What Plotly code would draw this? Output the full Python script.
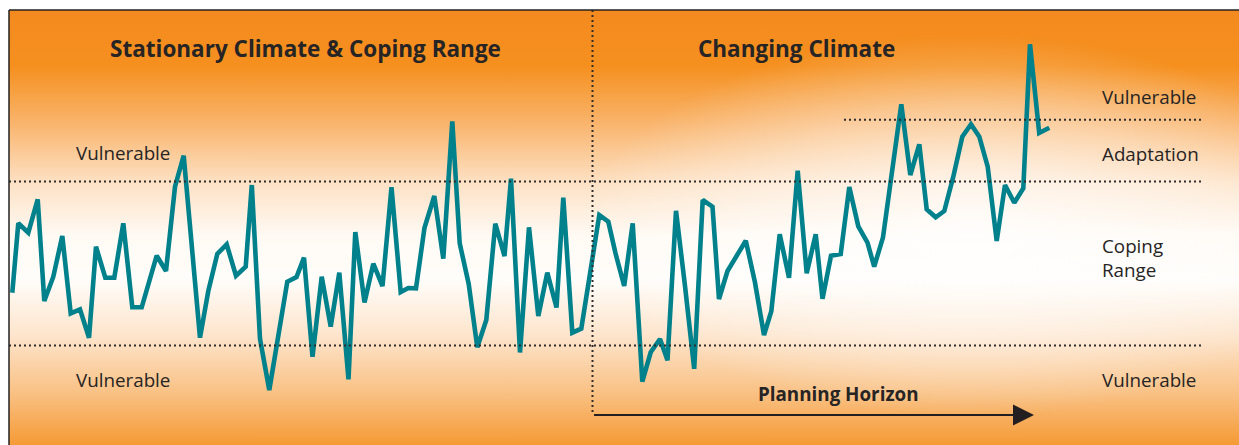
import base64
import plotly.graph_objects as go

# Climate variable trace (x = time position, y = value; axis drawn top-down)
time_pos = [12.3, 18.3, 28.3, 37.7, 44.3, 53.3, 62.3, 70.7, 80, 89, 96, 105.3, 114.3, 123.3, 132.3,
            141.7, 156.7, 166, 175, 183.7, 200, 208.3, 217.3, 226.7, 236, 245.7, 251.8, 260, 269.3,
            287.3, 296.5, 304, 312.5, 321.7, 330.7, 339.3, 348.5, 355.3, 364.5, 373.3, 382.5, 391.5,
            400.7, 408.3, 416, 424.5, 434.3, 443.3, 452.3, 459.7, 468.7, 477.3, 486.3, 495.3, 504.5,
            511, 520, 529, 538.3, 547.3, 556.5, 563.3, 572.3, 581.3, 599.3, 608.3, 615.5, 624.2,
            632.7, 642.3, 650.7, 660, 667.5, 676, 685, 694.2, 702.7, 712.5, 719, 727.5, 745.8, 755,
            764, 771.3, 779.7, 789, 797.7, 806.7, 815.7, 822.5, 831, 840.7, 849.3, 858.3, 867.5,
            874.2, 883, 901.3, 910.3, 919.3, 926.7, 935.7, 944.3, 953.3, 962.3, 971, 979.3, 987.7,
            996.7, 1005, 1014.3, 1023.3, 1030, 1039.2, 1049.3]
climate_val = [292.7, 223.3, 232.7, 199.3, 301, 276.7, 236, 313.3, 309.3, 337.7, 246.7, 277.7, 277.7,
               223.3, 307.3, 307.3, 255.7, 271, 186.7, 155.7, 337.7, 291, 254, 244.5, 275.7, 266.7,
               185, 339, 390, 281.7, 277, 257.7, 356.7, 276.7, 326.7, 272.7, 379.3, 232, 302.5,
               263.7, 286, 187.3, 292, 288, 288.3, 227.7, 196, 258.7, 121.3, 243.3, 284, 347.3, 320,
               223.7, 256, 178.7, 352.5, 227.3, 316, 272.7, 307.5, 197.7, 332.7, 328.7, 215, 221.7,
               253.3, 286, 223.3, 381.7, 352.3, 339, 360.3, 210.8, 286, 368.8, 200, 206.7, 299, 271,
               240.7, 282.5, 335, 311.2, 234.2, 277.7, 170.7, 273.3, 234.2, 298.7, 255.8, 254, 187,
               226.3, 242.7, 266.7, 237.3, 104.3, 175, 144.3, 209.3, 217.3, 211, 176.7, 136.7, 124.3,
               136.7, 166.7, 241, 185, 202.7, 188.3, 44.3, 133, 127.7]

# thresholds
coping_upper = 181.5
coping_lower = 345.5
adapt_upper = 119.7
horizon_start = 592.5
horizon_end = 1034

TEXT = "#262424"
FONT = "Open Sans"

svg = """<svg xmlns="http://www.w3.org/2000/svg" width="1230" height="435" viewBox="0 0 1230 435" preserveAspectRatio="none">
<defs>
<linearGradient id="v" x1="0" y1="0" x2="0" y2="1">
<stop offset="0" stop-color="#F48A1F"/>
<stop offset="0.13" stop-color="#F5901F"/>
<stop offset="0.26" stop-color="#F9B46C"/>
<stop offset="0.40" stop-color="#FDE2C6"/>
<stop offset="0.52" stop-color="#FFFAF4"/>
<stop offset="0.62" stop-color="#FFFDFA"/>
<stop offset="0.75" stop-color="#FDE4CB"/>
<stop offset="0.88" stop-color="#F9C184"/>
<stop offset="1" stop-color="#F59A35"/>
</linearGradient>
<radialGradient id="r" cx="0.5" cy="0.5" r="0.5">
<stop offset="0" stop-color="#FFFFFF" stop-opacity="0.75"/>
<stop offset="0.6" stop-color="#FFFFFF" stop-opacity="0.35"/>
<stop offset="1" stop-color="#FFFFFF" stop-opacity="0"/>
</radialGradient>
</defs>
<rect x="0" y="0" width="1230" height="435" fill="url(#v)"/>
<ellipse cx="960" cy="215" rx="380" ry="190" fill="url(#r)"/>
</svg>"""
bg_uri = "data:image/svg+xml;base64," + base64.b64encode(svg.encode()).decode()

fig = go.Figure()
fig.add_trace(go.Scatter(x=time_pos, y=climate_val, mode="lines",
                         line=dict(color="#00818B", width=4.6), hoverinfo="skip"))

dot = dict(color="#2E2C2C", width=2, dash="2px,3px")
fig.add_shape(type="line", x0=9, x1=1201, y0=coping_upper, y1=coping_upper, line=dot)
fig.add_shape(type="line", x0=9, x1=1201, y0=coping_lower, y1=coping_lower, line=dot)
fig.add_shape(type="line", x0=844, x1=1203, y0=adapt_upper, y1=adapt_upper, line=dot)
fig.add_shape(type="line", x0=horizon_start, x1=horizon_start, y0=10, y1=415, line=dot)
# frame
fig.add_shape(type="line", x0=9, x1=1239, y0=10, y1=10, line=dict(color="#222", width=1.5))
fig.add_shape(type="line", x0=9, x1=9, y0=10, y1=445, line=dict(color="#222", width=1.5))

fig.add_annotation(x=horizon_end, y=415, ax=horizon_start, ay=415, axref="x", ayref="y",
                   xref="x", yref="y", text="", showarrow=True, arrowhead=2, arrowsize=2.1,
                   arrowwidth=2, arrowcolor="#231F20")

def label(x, y, text, size, bold=False, anchor="center"):
    fig.add_annotation(x=x, y=y, xref="x", yref="y", text=text, showarrow=False,
                       xanchor=anchor, yanchor="middle", align="left",
                       font=dict(family=FONT, size=size, color=TEXT,
                                 weight="bold" if bold else "normal"))

label(305, 48, "Stationary Climate &amp; Coping Range", 22.5, bold=True)
label(796, 48, "Changing Climate", 22.5, bold=True)
label(123, 153, "Vulnerable", 18.8)
label(123, 380, "Vulnerable", 18.8)
label(1100, 97, "Vulnerable", 18.8, anchor="left")
label(1100, 154, "Adaptation", 18.8, anchor="left")
label(1100, 258, "Coping<br>Range", 18.8, anchor="left")
label(1100, 380, "Vulnerable", 18.8, anchor="left")
label(838, 394, "Planning Horizon", 18.8, bold=True)

fig.update_layout(
    width=1239, height=445, margin=dict(l=0, r=0, t=0, b=0),
    paper_bgcolor="white", plot_bgcolor="rgba(0,0,0,0)", showlegend=False,
    xaxis=dict(range=[0, 1239], visible=False, fixedrange=True),
    yaxis=dict(range=[445, 0], visible=False, fixedrange=True),
    images=[dict(source=bg_uri, xref="x", yref="y", x=9, y=10, sizex=1230, sizey=435,
                 xanchor="left", yanchor="top", sizing="stretch", layer="below")],
)
fig.write_html("out.html", config={"displayModeBar": False},
               post_script="document.body.style.margin='0';document.body.style.overflow='hidden';")
